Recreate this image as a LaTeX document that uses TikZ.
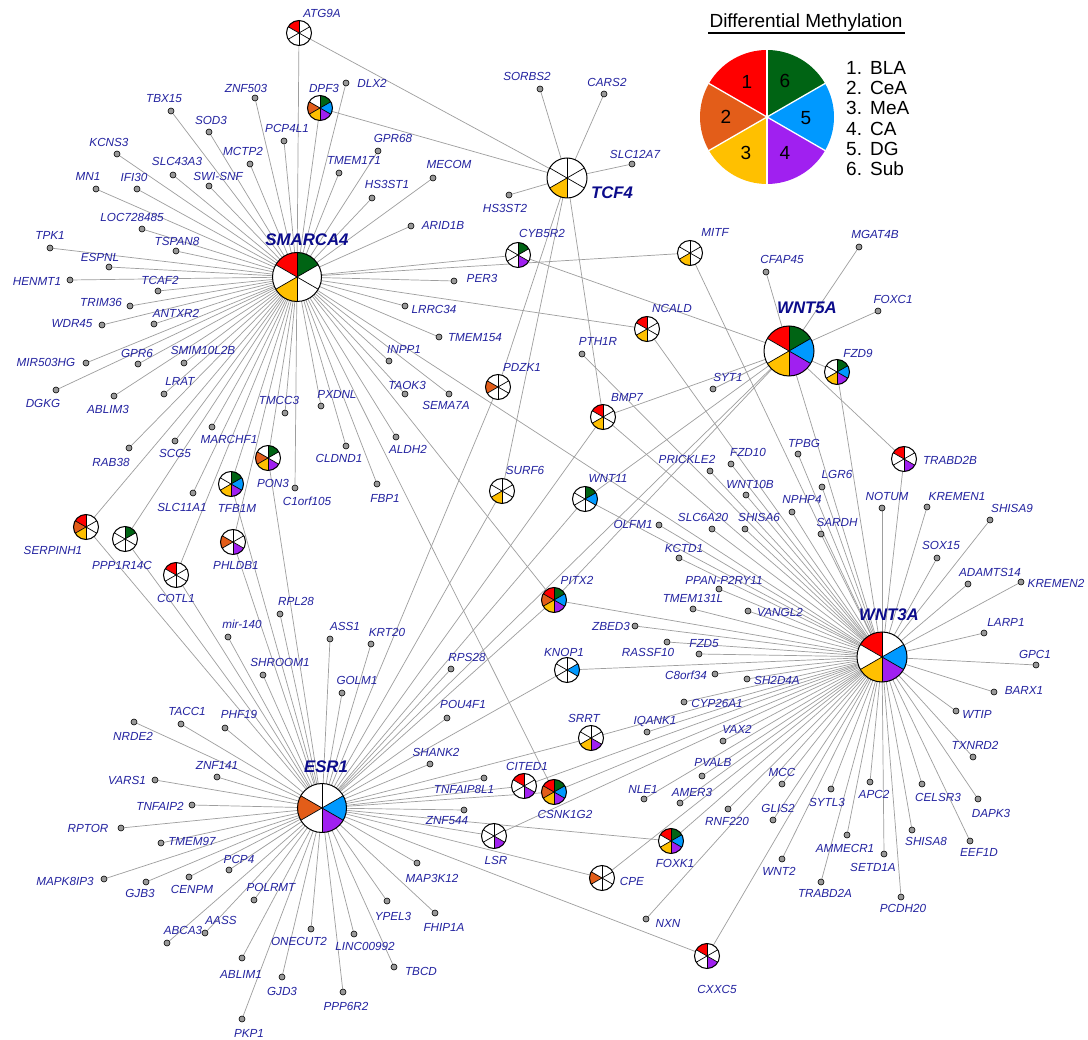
\documentclass[tikz,border=0pt]{standalone}
\usepackage{fontspec}
\setmainfont{Liberation Sans}
\pgfdeclarelayer{bg}
\pgfsetlayers{bg,main}
\definecolor{pRed}{HTML}{FF0000}
\definecolor{pOrange}{HTML}{E35D19}
\definecolor{pYellow}{HTML}{FFC000}
\definecolor{pPurple}{HTML}{A020F0}
\definecolor{pBlue}{HTML}{0099FF}
\definecolor{pGreen}{HTML}{006414}
\definecolor{lblblue}{HTML}{2323A0}
\definecolor{hubblue}{HTML}{0B0B8B}
\tikzset{
  edge/.style={draw=black!38, line width=0.7pt},
  gdot/.style={circle, inner sep=0pt, minimum size=6pt, fill=black!40, draw=black, line width=0.6pt},
  lbl/.style={inner sep=0pt, text=lblblue, font=\fontsize{11.7}{12}\selectfont\itshape},
  hublbl/.style={inner sep=0pt, text=hubblue, font=\fontsize{16.8}{18}\selectfont\bfseries\itshape},
  spoke/.style={draw=black, line width=0.7pt},
  pieout/.style={draw=black, line width=1pt},
  leg/.style={inner sep=0pt, text=black, font=\fontsize{19}{20}\selectfont},
}
% dot node with its label
\newcommand{\dn}[3]{\node[gdot] (#1) at (#2) {}; \node[lbl] (#1-t) at (#3) {#1};}
% pie node: name, position, radius, six sector colours (1..6)
\newcommand{\pn}[9]{%
  \node[circle, inner sep=0pt, outer sep=0pt, minimum size=#3*2pt] (#1) at (#2) {};
  \foreach \pc [count=\k] in {#4,#5,#6,#7,#8,#9} {
    \fill[\pc] (#1.center) -- ++({-(90+60*(\k-1))}:#3)
      arc[start angle={-(90+60*(\k-1))}, end angle={-(90+60*\k)}, radius=#3] -- cycle;
  }
  \foreach \a in {90,150,210,270,330,390} \draw[spoke] (#1.center) -- ++(-\a:#3);
  \draw[pieout] (#1.center) circle[radius=#3];
}
\begin{document}
\begin{tikzpicture}[x=1pt,y=-1pt]
\useasboundingbox (0,0) rectangle (1088,1040);

% ---------- hubs ----------
\pn{SMARCA4}{297,277}{24.5}{pRed}{white}{pYellow}{white}{white}{pGreen}
\pn{TCF4}{567,178}{20}{white}{white}{pYellow}{white}{white}{white}
\pn{WNT5A}{789,351}{25}{pRed}{white}{pYellow}{pPurple}{pBlue}{pGreen}
\pn{WNT3A}{882,657}{25}{pRed}{white}{pYellow}{pPurple}{pBlue}{white}
\pn{ESR1}{322,808}{24.5}{white}{pOrange}{white}{pPurple}{pBlue}{white}
\node[hublbl] (SMARCA4-t) at (307,240) {SMARCA4};
\node[hublbl] (TCF4-t) at (612,193) {TCF4};
\node[hublbl] (WNT5A-t) at (807,308) {WNT5A};
\node[hublbl] (WNT3A-t) at (889,615) {WNT3A};
\node[hublbl] (ESR1-t) at (326,767) {ESR1};

% ---------- secondary pies ----------
\pn{ATG9A}{299,33}{12.5}{pRed}{white}{white}{white}{white}{white}
\pn{DPF3}{320,108}{12.5}{white}{pOrange}{pYellow}{pPurple}{pBlue}{pGreen}
\pn{CYB5R2}{518,255}{12.5}{white}{white}{white}{pPurple}{white}{pGreen}
\pn{MITF}{690,253}{12.5}{white}{white}{pYellow}{white}{white}{white}
\pn{NCALD}{647,329}{12.5}{pRed}{white}{pYellow}{white}{white}{white}
\pn{PDZK1}{498,387}{12.5}{white}{pOrange}{white}{white}{white}{white}
\pn{BMP7}{603,417}{12.5}{pRed}{white}{pYellow}{white}{white}{white}
\pn{SURF6}{502,491}{12.5}{white}{white}{pYellow}{white}{white}{white}
\pn{WNT11}{585,499}{12.5}{white}{white}{white}{white}{pBlue}{pGreen}
\pn{PITX2}{554,600}{12.5}{pRed}{pOrange}{pYellow}{pPurple}{pBlue}{pGreen}
\pn{KNOP1}{567,670}{12.5}{white}{white}{white}{white}{pBlue}{white}
\pn{FZD9}{837,372}{12.5}{white}{white}{pYellow}{pPurple}{pBlue}{pGreen}
\pn{TRABD2B}{904,459}{12.5}{pRed}{white}{white}{pPurple}{white}{white}
\pn{SERPINH1}{86,527}{12.5}{pRed}{pOrange}{pYellow}{white}{white}{white}
\pn{PPP1R14C}{125,539}{12.5}{white}{white}{white}{white}{white}{pGreen}
\pn{COTL1}{176,575}{12.5}{pRed}{white}{white}{white}{white}{white}
\pn{PON3}{268,458}{12.5}{white}{pOrange}{pYellow}{pPurple}{white}{pGreen}
\pn{TFB1M}{231,484}{12.5}{white}{white}{pYellow}{pPurple}{pBlue}{pGreen}
\pn{PHLDB1}{233,542}{12.5}{white}{pOrange}{white}{pPurple}{white}{white}
\pn{SRRT}{591,738}{12.5}{white}{white}{pYellow}{pPurple}{white}{white}
\pn{CITED1}{524,786}{12.5}{pRed}{white}{white}{pPurple}{white}{white}
\pn{CSNK1G2}{554,792}{12.5}{pRed}{pOrange}{pYellow}{pPurple}{pBlue}{pGreen}
\pn{LSR}{494,836}{12.5}{white}{white}{white}{pPurple}{white}{white}
\pn{FOXK1}{671,841}{12.5}{pRed}{white}{pYellow}{pPurple}{pBlue}{pGreen}
\pn{CPE}{602,878}{12.5}{white}{pOrange}{white}{white}{white}{white}
\pn{CXXC5}{707,956}{12.5}{pRed}{white}{white}{pPurple}{white}{white}
\foreach \n/\p in {ATG9A/{322,13}, DPF3/{324,88}, CYB5R2/{542,233}, MITF/{715,232},
  NCALD/{672,308}, PDZK1/{522,367}, BMP7/{627,397}, SURF6/{525,470}, WNT11/{608,478},
  PITX2/{577,580}, KNOP1/{564,652}, FZD9/{858,353}, TRABD2B/{950,460},
  SERPINH1/{53,550}, PPP1R14C/{122,565}, COTL1/{176,598}, PON3/{273,483},
  TFB1M/{237,508}, PHLDB1/{236,565}, SRRT/{584,718}, CITED1/{527,766},
  CSNK1G2/{565,814}, LSR/{496,860}, FOXK1/{675,863}, CPE/{632,881}, CXXC5/{717,989}}
  \node[lbl] (\n-t) at (\p) {\n};

% ---------- SMARCA4 dots ----------
\dn{DLX2}{346,83}{372,83}
\dn{ZNF503}{255,98}{246,88}
\dn{TBX15}{171,111}{164,99}
\dn{SOD3}{209,132}{211,120}
\dn{PCP4L1}{284,141}{287,128}
\dn{KCNS3}{117,154}{109,142}
\dn{MCTP2}{250,164}{243,151}
\dn{TMEM171}{339,173}{354,160}
\dn{SLC43A3}{173,175}{177,161}
\dn{SWI-SNF}{209,186}{218,176}
\dn{MN1}{96,189}{88,176}
\dn{IFI30}{137,189}{134,177}
\dn{GPR68}{378,151}{393,138}
\dn{HS3ST1}{372,198}{387,184}
\dn{MECOM}{433,178}{449,164}
\dn{ARID1B}{411,226}{443,225}
\dn{LOC728485}{142,229}{132,217}
\dn{TPK1}{50,248}{50,235}
\dn{TSPAN8}{176,251}{177,241}
\dn{ESPNL}{109,267}{100,257}
\dn{HENMT1}{70,280}{37,281}
\dn{TCAF2}{158,291}{160,280}
\dn{TRIM36}{130,306}{101,302}
\dn{ANTXR2}{154,324}{176,313}
\dn{WDR45}{102,325}{72,324}
\dn{PER3}{454,281}{482,278}
\dn{LRRC34}{405,306}{434,309}
\dn{TMEM154}{439,337}{475,338}
\dn{MIR503HG}{86,363}{46,362}
\dn{GPR6}{138,364}{137,353}
\dn{SMIM10L2B}{184,363}{203,350}
\dn{DGKG}{56,390}{43,403}
\dn{ABLIM3}{114,396}{108,409}
\dn{LRAT}{164,394}{180,381}
\dn{INPP1}{389,361}{404,349}
\dn{TAOK3}{405,394}{407,385}
\dn{SEMA7A}{449,394}{446,405}
\dn{TMCC3}{285,413}{279,400}
\dn{PXDNL}{321,406}{337,394}
\dn{MARCHF1}{212,427}{229,439}
\dn{ALDH2}{396,437}{408,449}
\dn{CLDND1}{346,446}{339,458}
\dn{RAB38}{129,448}{111,462}
\dn{SCG5}{175,441}{175,453}
\dn{FBP1}{377,484}{385,498}
\dn{C1orf105}{295,488}{307,501}
\dn{SLC11A1}{193,493}{182,507}

% ---------- TCF4 dots ----------
\dn{SORBS2}{540,89}{527,76}
\dn{CARS2}{604,94}{607,82}
\dn{SLC12A7}{632,164}{635,154}
\dn{HS3ST2}{509,195}{505,208}

% ---------- WNT5A dots ----------
\dn{CFAP45}{766,272}{782,259}
\dn{MGAT4B}{859,247}{875,234}
\dn{FOXC1}{878,311}{893,299}
\dn{SYT1}{713,389}{728,377}

% ---------- ESR1 dots ----------
\dn{RPL28}{280,614}{296,601}
\dn{mir-140}{228,637}{242,624}
\dn{ASS1}{330,639}{345,626}
\dn{KRT20}{371,644}{387,632}
\dn{SHROOM1}{263,675}{280,662}
\dn{GOLM1}{342,693}{357,680}
\dn{RPS28}{451,669}{467,657}
\dn{POU4F1}{447,718}{463,704}
\dn{SHANK2}{430,764}{436,752}
\dn{TNFAIP8L1}{484,778}{464,789}
\dn{ZNF544}{464,810}{447,821}
\dn{MAP3K12}{417,863}{432,878}
\dn{YPEL3}{387,901}{393,916}
\dn{FHIP1A}{435,913}{444,927}
\dn{LINC00992}{354,934}{365,946}
\dn{TBCD}{394,967}{421,971}
\dn{PPP6R2}{343,992}{346,1006}
\dn{NRDE2}{134,722}{133,736}
\dn{TACC1}{181,724}{187,711}
\dn{PHF19}{225,728}{239,714}
\dn{ZNF141}{217,777}{217,765}
\dn{VARS1}{155,780}{127,780}
\dn{TNFAIP2}{192,805}{160,806}
\dn{RPTOR}{121,828}{88,828}
\dn{TMEM97}{161,843}{192,841}
\dn{PCP4}{229,870}{239,859}
\dn{MAPK8IP3}{104,879}{65,881}
\dn{GJB3}{146,882}{140,893}
\dn{CENPM}{189,877}{192,889}
\dn{POLRMT}{254,900}{271,887}
\dn{AASS}{205,933}{221,920}
\dn{ABCA3}{167,943}{183,930}
\dn{ONECUT2}{311,929}{299,941}
\dn{ABLIM1}{242,958}{241,974}
\dn{GJD3}{282,977}{282,991}
\dn{PKP1}{242,1019}{249,1033}

% ---------- WNT3A dots ----------
\dn{PTH1R}{582,354}{598,341}
\dn{PRICKLE2}{710,471}{687,459}
\dn{FZD10}{731,464}{748,452}
\dn{TPBG}{798,454}{804,443}
\dn{LGR6}{822,487}{837,474}
\dn{WNT10B}{746,495}{750,484}
\dn{NPHP4}{792,512}{802,499}
\dn{SLC6A20}{712,529}{703,517}
\dn{SHISA6}{745,529}{759,517}
\dn{SARDH}{821,534}{837,522}
\dn{OLFM1}{659,525}{633,524}
\dn{KCTD1}{679,558}{684,548}
\dn{PPAN-P2RY11}{719,589}{724,580}
\dn{TMEM131L}{693,609}{693,598}
\dn{VANGL2}{748,611}{780,612}
\dn{ZBED3}{635,626}{611,626}
\dn{RASSF10}{667,642}{648,652}
\dn{FZD5}{699,654}{704,644}
\dn{C8orf34}{715,674}{686,675}
\dn{SH2D4A}{747,679}{777,680}
\dn{CYP26A1}{684,702}{717,703}
\dn{IQANK1}{647,732}{655,722}
\dn{VAX2}{723,741}{737,729}
\dn{PVALB}{702,776}{713,762}
\dn{NLE1}{644,799}{643,789}
\dn{AMER3}{680,803}{692,792}
\dn{MCC}{782,784}{782,772}
\dn{RNF220}{728,809}{727,821}
\dn{GLIS2}{773,820}{778,808}
\dn{SYTL3}{831,789}{827,802}
\dn{APC2}{870,782}{874,794}
\dn{CELSR3}{922,784}{938,797}
\dn{DAPK3}{978,799}{991,813}
\dn{AMMECR1}{847,835}{845,848}
\dn{SHISA8}{912,830}{926,841}
\dn{EEF1D}{970,841}{979,852}
\dn{SETD1A}{884,854}{873,867}
\dn{WNT2}{782,859}{779,871}
\dn{TRABD2A}{821,882}{825,893}
\dn{PCDH20}{901,897}{903,908}
\dn{TXNRD2}{973,757}{975,745}
\dn{WTIP}{956,711}{977,714}
\dn{BARX1}{994,692}{1024,690}
\dn{GPC1}{1036,665}{1035,654}
\dn{LARP1}{984,633}{1006,622}
\dn{KREMEN2}{1021,582}{1056,583}
\dn{ADAMTS14}{968,584}{990,572}
\dn{SHISA9}{990,520}{1012,508}
\dn{SOX15}{937,558}{941,545}
\dn{KREMEN1}{927,507}{957,496}
\dn{NOTUM}{882,508}{887,496}
\dn{NXN}{646,919}{668,923}

% ---------- edges (behind everything) ----------
\begin{pgfonlayer}{bg}
\fill[white] (0,0) rectangle (1088,1040);
\foreach \t in {DLX2,ZNF503,TBX15,SOD3,PCP4L1,KCNS3,MCTP2,TMEM171,SLC43A3,SWI-SNF,MN1,IFI30,
  GPR68,HS3ST1,MECOM,ARID1B,LOC728485,TPK1,TSPAN8,ESPNL,HENMT1,TCAF2,TRIM36,ANTXR2,WDR45,
  PER3,LRRC34,TMEM154,MIR503HG,GPR6,SMIM10L2B,DGKG,ABLIM3,LRAT,INPP1,TAOK3,SEMA7A,TMCC3,
  PXDNL,MARCHF1,ALDH2,CLDND1,RAB38,SCG5,FBP1,C1orf105,SLC11A1,
  ATG9A,DPF3,CYB5R2,MITF,NCALD,PITX2,CSNK1G2,WNT3A,SERPINH1,PPP1R14C,COTL1,PON3,TFB1M,PHLDB1}
  \draw[edge] (SMARCA4) -- (\t);
\foreach \t in {SORBS2,CARS2,SLC12A7,HS3ST2,ATG9A,DPF3,PDZK1,SURF6,BMP7}
  \draw[edge] (TCF4) -- (\t);
\foreach \t in {CFAP45,MGAT4B,FOXC1,SYT1,CYB5R2,BMP7,WNT11,PITX2,ESR1,FZD9,TRABD2B,WNT3A}
  \draw[edge] (WNT5A) -- (\t);
\foreach \t in {PTH1R,PRICKLE2,FZD10,TPBG,LGR6,WNT10B,NPHP4,SLC6A20,SHISA6,SARDH,OLFM1,KCTD1,
  PPAN-P2RY11,TMEM131L,VANGL2,ZBED3,RASSF10,FZD5,C8orf34,SH2D4A,CYP26A1,IQANK1,VAX2,PVALB,
  NLE1,AMER3,MCC,RNF220,GLIS2,SYTL3,APC2,CELSR3,DAPK3,AMMECR1,SHISA8,EEF1D,SETD1A,WNT2,
  TRABD2A,PCDH20,TXNRD2,WTIP,BARX1,GPC1,LARP1,KREMEN2,ADAMTS14,SHISA9,SOX15,KREMEN1,NOTUM,NXN,
  MITF,NCALD,BMP7,WNT11,PITX2,KNOP1,SRRT,CITED1,CSNK1G2,LSR,FOXK1,CPE,CXXC5,FZD9,TRABD2B}
  \draw[edge] (WNT3A) -- (\t);
\foreach \t in {RPL28,mir-140,ASS1,KRT20,SHROOM1,GOLM1,RPS28,POU4F1,SHANK2,TNFAIP8L1,ZNF544,
  MAP3K12,YPEL3,FHIP1A,LINC00992,TBCD,PPP6R2,NRDE2,TACC1,PHF19,ZNF141,VARS1,TNFAIP2,RPTOR,
  TMEM97,PCP4,MAPK8IP3,GJB3,CENPM,POLRMT,AASS,ABCA3,ONECUT2,ABLIM1,GJD3,PKP1,
  SERPINH1,PPP1R14C,COTL1,PON3,TFB1M,PHLDB1,PDZK1,SURF6,BMP7,WNT11,PITX2,KNOP1,SRRT,CITED1,
  CSNK1G2,LSR,FOXK1,CPE,CXXC5}
  \draw[edge] (ESR1) -- (\t);
\end{pgfonlayer}

% ---------- legend ----------
\node[leg, anchor=base] (legtitle) at (806,28) {Differential Methylation};
\draw[line width=1.3pt] (708,33) -- (905,33);
\coordinate (legc) at (767,117);
\foreach \pc [count=\k] in {pRed,pOrange,pYellow,pPurple,pBlue,pGreen} {
  \fill[\pc] (legc) -- ++({-(90+60*(\k-1))}:67)
    arc[start angle={-(90+60*(\k-1))}, end angle={-(90+60*\k)}, radius=67] -- cycle;
}
\foreach \a in {90,150,210,270,330,390} \draw[white, line width=1.3pt] (legc) -- ++(-\a:67.5);
\node[leg] (n1) at (747,82) {1};
\node[leg] (n2) at (726,117) {2};
\node[leg] (n3) at (746,153) {3};
\node[leg] (n4) at (785,153) {4};
\node[leg] (n5) at (806,118) {5};
\node[leg] (n6) at (785,81) {6};
\foreach \i/\s [count=\k from 0] in {1/BLA,2/CeA,3/MeA,4/CA,5/DG,6/Sub}
  \node[leg, anchor=west] (li\i) at (846,{68+20.2*\k}) {\makebox[24pt][l]{\i.}\s};
\end{tikzpicture}
\end{document}
